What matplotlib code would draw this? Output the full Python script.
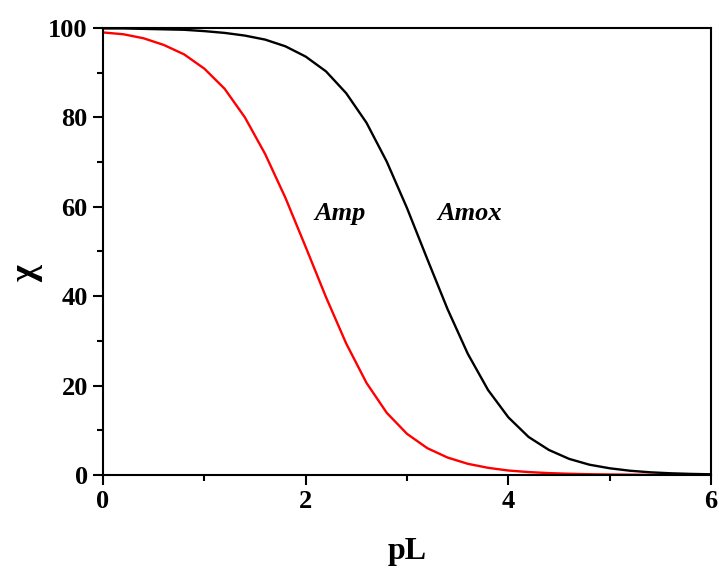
import matplotlib.pyplot as plt
from matplotlib.ticker import MultipleLocator

# pL grid, 0.2 steps
pL = [0.0, 0.2, 0.4, 0.6, 0.8, 1.0, 1.2, 1.4, 1.6, 1.8, 2.0,
      2.2, 2.4, 2.6, 2.8, 3.0, 3.2, 3.4, 3.6, 3.8, 4.0,
      4.2, 4.4, 4.6, 4.8, 5.0, 5.2, 5.4, 5.6, 5.8, 6.0]

# fraction of free ligand (%)
chi_amp = [99.0, 98.6, 97.7, 96.2, 94.1, 90.9, 86.4, 80.0, 71.8, 62.0, 51.0,
           39.8, 29.4, 20.6, 13.9, 9.2, 6.0, 3.9, 2.5, 1.6, 1.0,
           0.65, 0.42, 0.27, 0.17, 0.11, 0.07, 0.04, 0.03, 0.02, 0.01]
chi_amox = [99.9, 99.9, 99.8, 99.7, 99.6, 99.3, 98.9, 98.3, 97.4, 95.9, 93.6,
            90.3, 85.4, 78.8, 70.1, 59.7, 48.3, 37.1, 27.1, 19.0, 12.9,
            8.5, 5.6, 3.6, 2.3, 1.5, 0.95, 0.6, 0.38, 0.24, 0.15]

plt.rcParams['font.family'] = 'Liberation Serif'
plt.rcParams['font.weight'] = 'bold'

fig = plt.figure(figsize=(7.19, 5.70), dpi=100)
ax = fig.add_axes([0.1433, 0.1667, 0.8456, 0.7842])

ax.plot(pL, chi_amp, color='red', lw=1.7)
ax.plot(pL, chi_amox, color='black', lw=1.7)

ax.text(2.09, 58.6, 'Amp', fontsize=19, fontstyle='italic', fontweight='bold', va='center')
ax.text(3.30, 58.6, 'Amox', fontsize=19, fontstyle='italic', fontweight='bold', va='center')

ax.set_xlim(0, 6)
ax.set_ylim(0, 100)
ax.xaxis.set_major_locator(MultipleLocator(2))
ax.xaxis.set_minor_locator(MultipleLocator(1))
ax.yaxis.set_major_locator(MultipleLocator(20))
ax.yaxis.set_minor_locator(MultipleLocator(10))
ax.tick_params(which='both', direction='out', width=1.5, labelsize=19, top=False, right=False)
ax.tick_params(which='major', length=7, pad=4)
ax.tick_params(which='minor', length=4)
for s in ax.spines.values():
    s.set_linewidth(1.5)

ax.set_xlabel('pL', fontsize=23, fontweight='bold', labelpad=17)
# y label sits a little below the axis middle
fig.text(27 / 719, 1 - 274 / 570, 'χ', fontsize=26, fontweight='bold',
         rotation=90, ha='center', va='center')

fig.savefig('out.png', dpi=100)
